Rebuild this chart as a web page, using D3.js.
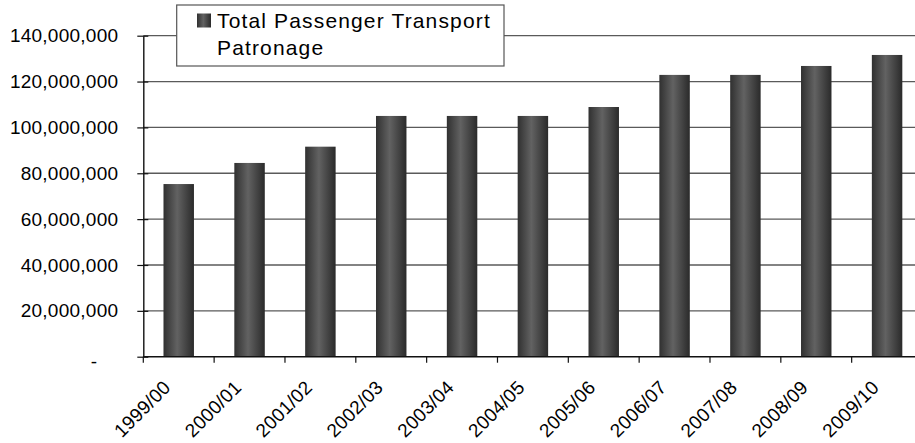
<!DOCTYPE html>
<html>
<head>
<meta charset="utf-8">
<script src="https://cdn.jsdelivr.net/npm/d3@7/dist/d3.min.js"></script>
<style>
  body { margin: 0; background: #fff; }
  svg { display: block; }
  text { font-family: "Liberation Sans", Arial, sans-serif; fill: #000; }
</style>
</head>
<body>
<svg id="chart" width="915" height="443"></svg>
<script>
// Financial years and total passenger transport patronage
const years = ["1999/00", "2000/01", "2001/02", "2002/03", "2003/04", "2004/05",
               "2005/06", "2006/07", "2007/08", "2008/09", "2009/10"];
const patronage = [75300000, 84500000, 91600000, 105000000, 105000000, 105000000,
                   108900000, 122900000, 122900000, 126800000, 131600000];
const yTicks = [0, 20000000, 40000000, 60000000, 80000000, 100000000, 120000000, 140000000];
const yTickLabels = ["-", "20,000,000", "40,000,000", "60,000,000", "80,000,000",
                     "100,000,000", "120,000,000", "140,000,000"];
const legendLines = ["Total Passenger Transport", "Patronage"];

const svg = d3.select("#chart");
const W = 915;
const plot = { left: 143.3, right: 922.5, top: 35.7, bottom: 356.7 };
const FONT = "\"Liberation Sans\", Arial, sans-serif";

const x = d3.scaleBand()
  .domain(years)
  .range([plot.left, plot.right])
  .paddingInner(0.57)
  .paddingOuter(0.285);

const y = d3.scaleLinear()
  .domain([0, 140000000])
  .range([plot.bottom, plot.top]);

// Bar shading: dark edges with a lighter band slightly left of centre
const defs = svg.append("defs");
const grad = defs.append("linearGradient")
  .attr("id", "barShade").attr("x1", "0%").attr("x2", "100%").attr("y1", "0%").attr("y2", "0%");
grad.append("stop").attr("offset", "0%").attr("stop-color", "#303030");
grad.append("stop").attr("offset", "45%").attr("stop-color", "#626262");
grad.append("stop").attr("offset", "100%").attr("stop-color", "#2a2a2a");

// Horizontal gridlines
svg.append("g")
  .selectAll("line")
  .data(yTicks.slice(1))
  .join("line")
  .attr("x1", plot.left).attr("x2", W)
  .attr("y1", d => y(d)).attr("y2", d => y(d))
  .attr("stroke", "#5a5a5a")
  .attr("stroke-width", 1.3);

// Bars
svg.append("g")
  .selectAll("rect")
  .data(years)
  .join("rect")
  .attr("x", d => x(d))
  .attr("width", x.bandwidth())
  .attr("y", (d, i) => y(patronage[i]))
  .attr("height", (d, i) => y(0) - y(patronage[i]))
  .attr("fill", "url(#barShade)");

// Y axis
const yAxis = svg.append("g")
  .attr("transform", `translate(${plot.left},0)`)
  .call(d3.axisLeft(y)
    .tickValues(yTicks)
    .tickFormat((d, i) => yTickLabels[i])
    .tickSize(6)
    .tickSizeOuter(0)
    .tickPadding(19));
yAxis.select(".domain").attr("stroke", "#111").attr("stroke-width", 1.4);
yAxis.selectAll(".tick line").attr("x1", 5).attr("stroke", "#111").attr("stroke-width", 1.2);
yAxis.selectAll(".tick text")
  .attr("font-size", 19)
  .attr("font-family", FONT)
  .attr("letter-spacing", 0.25);
// The zero label is a dash set two digit-widths in from the right, and sits lower
yAxis.selectAll(".tick text").filter(d => d === 0)
  .attr("dx", -21).attr("dy", 11);

// X axis line and category boundary ticks
const xAxis = svg.append("g");
xAxis.append("line")
  .attr("x1", plot.left).attr("x2", W)
  .attr("y1", plot.bottom).attr("y2", plot.bottom)
  .attr("stroke", "#111").attr("stroke-width", 1.4);
const gap = (x.step() - x.bandwidth()) / 2;
xAxis.selectAll("line.tick")
  .data(years)
  .join("line")
  .attr("class", "tick")
  .attr("x1", d => x(d) - gap).attr("x2", d => x(d) - gap)
  .attr("y1", plot.bottom).attr("y2", plot.bottom + 6)
  .attr("stroke", "#111").attr("stroke-width", 1.2);
xAxis.selectAll("text")
  .data(years)
  .join("text")
  .attr("transform", d => `translate(${x(d) + x.bandwidth() / 2 - 7},${plot.bottom + 32}) rotate(-45)`)
  .attr("text-anchor", "end")
  .attr("font-size", 19)
  .attr("font-family", FONT)
  .attr("letter-spacing", 0.25)
  .text(d => d);

// Legend
const legend = svg.append("g");
legend.append("rect")
  .attr("x", 176.7).attr("y", 5)
  .attr("width", 327.3).attr("height", 61)
  .attr("fill", "#fff")
  .attr("stroke", "#555").attr("stroke-width", 1.2);
legend.append("rect")
  .attr("x", 197).attr("y", 13.5)
  .attr("width", 14).attr("height", 14)
  .attr("fill", "url(#barShade)");
legend.selectAll("text.lbl")
  .data(legendLines)
  .join("text")
  .attr("class", "lbl")
  .attr("x", 217)
  .attr("y", (d, i) => 27.8 + i * 27.2)
  .attr("font-size", 21)
  .attr("font-family", FONT)
  .attr("letter-spacing", 1.15)
  .text(d => d);
</script>
</body>
</html>
